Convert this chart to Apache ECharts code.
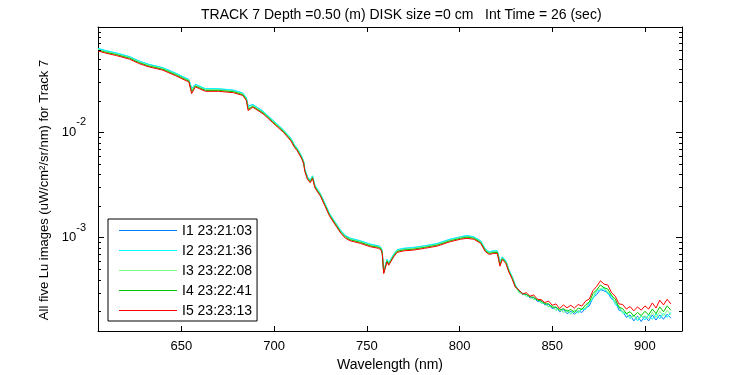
<!DOCTYPE html>
<html><head><meta charset="utf-8">
<script src="https://cdn.jsdelivr.net/npm/echarts@6/dist/echarts.min.js"></script>
<style>html,body{margin:0;padding:0;background:#fff}#c{width:750px;height:375px}</style>
</head><body><div id="c"></div>
<script>
const titleText = 'TRACK 7 Depth =0.50 (m) DISK size =0 cm   Int Time = 26 (sec)';
const xName = 'Wavelength (nm)';
const yName = 'All five Lu images (uW/cm\u00b2/sr/nm) for Track 7';
const seriesNames = ['I1 23:21:03','I2 23:21:36','I3 23:22:08','I4 23:22:41','I5 23:23:13'];

const wavelength = [605,609,615,622,627,632,640,647,652,654,655.5,657.5,663,670,678,683,685,686,688.5,694,
699,705,709,711,712.5,715,716,716.5,718,719.5,720.7,722,725,727.5,730,733,736,738.5,741,746.5,
752,756.5,757.7,758.3,759.1,760,760.9,761.8,762.7,764.5,766.3,770,775,781,788,795,800.5,804,807.7,811.4,
814,816,818.5,820.4,821.8,823.1,825,826.6,828.5,830,
832,834,836,838,840,842,844,846,848,850,852,854,856,858,860,862,864,866,868,870,
872,874,876,878,880,882,884,886,888,890,892,894,896,898,900,902,904,906,908,910,912,914];

const i1 = [0.0622,0.0594,0.0562,0.0520,0.0474,0.0441,0.0408,0.0361,0.0328,0.0316,
0.0262,0.0284,0.0257,0.0257,0.0250,0.0235,0.0213,0.0178,0.0183,0.0158,
0.0131,0.0105,0.00873,0.00754,0.00700,0.00583,0.00522,0.00449,0.00375,0.00349,
0.00385,0.00312,0.00259,0.00208,0.00167,0.00139,0.00116,0.00104,0.000982,0.000927,
0.000860,0.000831,0.000800,0.000744,0.000480,0.000496,0.000618,0.000574,0.000597,0.000691,
0.000761,0.000788,0.000800,0.000831,0.000874,0.000962,0.00101,0.00104,0.00101,0.000927,
0.000771,0.000728,0.000744,0.000744,0.000590,0.000652,0.000597,0.000496,0.000420,0.000357,
3.12e-4,2.88e-4,2.9e-4,2.68e-4,2.7e-4,2.48e-4,2.5e-4,2.3e-4,2.32e-4,2.12e-4,
2.18e-4,1.98e-4,2.08e-4,1.9e-4,2.0e-4,1.88e-4,2.02e-4,1.95e-4,2.15e-4,2.25e-4,
2.7e-4,2.88e-4,3.22e-4,3.12e-4,3.0e-4,2.62e-4,2.48e-4,2.05e-4,2.0e-4,1.75e-4,
1.85e-4,1.62e-4,1.8e-4,1.6e-4,1.8e-4,1.62e-4,1.85e-4,1.65e-4,1.85e-4,1.68e-4,
1.88e-4,1.72e-4];

const i2 = [0.0628,0.0600,0.0567,0.0525,0.0478,0.0445,0.0412,0.0365,0.0331,0.0319,
0.0258,0.0286,0.0260,0.0260,0.0252,0.0237,0.0214,0.0176,0.0184,0.0159,
0.0132,0.0106,0.00881,0.00761,0.00707,0.00588,0.00527,0.00454,0.00378,0.00352,
0.00387,0.00315,0.00262,0.00210,0.00169,0.00140,0.00117,0.00105,0.000991,0.000936,
0.000868,0.000838,0.000808,0.000752,0.000483,0.000500,0.000624,0.000580,0.000603,0.000697,
0.000769,0.000795,0.000808,0.000838,0.000882,0.000971,0.00102,0.00105,0.00102,0.000936,
0.000778,0.000735,0.000752,0.000752,0.000585,0.000658,0.000603,0.000500,0.000424,0.000360,
3.05e-4,2.98e-4,2.78e-4,2.8e-4,2.58e-4,2.62e-4,2.38e-4,2.42e-4,2.2e-4,2.26e-4,
2.04e-4,2.14e-4,1.95e-4,2.05e-4,1.88e-4,2.04e-4,1.92e-4,2.1e-4,2.08e-4,2.4e-4,
2.62e-4,3.1e-4,3.18e-4,3.3e-4,2.92e-4,2.8e-4,2.32e-4,2.2e-4,1.92e-4,1.9e-4,
1.7e-4,1.85e-4,1.62e-4,1.82e-4,1.65e-4,1.85e-4,1.68e-4,1.9e-4,1.7e-4,1.92e-4,
1.75e-4,1.95e-4];

const i3 = [0.0613,0.0586,0.0554,0.0512,0.0467,0.0435,0.0403,0.0356,0.0323,0.0312,
0.0250,0.0279,0.0254,0.0254,0.0246,0.0232,0.0208,0.0170,0.0179,0.0155,
0.0129,0.0104,0.00860,0.00743,0.00690,0.00574,0.00514,0.00443,0.00369,0.00344,
0.00378,0.00307,0.00256,0.00205,0.00165,0.00137,0.00114,0.00102,0.000968,0.000914,
0.000848,0.000819,0.000789,0.000734,0.000470,0.000489,0.000610,0.000566,0.000589,0.000681,
0.000750,0.000776,0.000789,0.000819,0.000861,0.000948,0.00100,0.00102,0.00100,0.000914,
0.000760,0.000717,0.000734,0.000734,0.000565,0.000643,0.000589,0.000489,0.000414,0.000352,
3.0e-4,2.95e-4,2.8e-4,2.75e-4,2.6e-4,2.6e-4,2.42e-4,2.4e-4,2.22e-4,2.25e-4,
2.05e-4,2.12e-4,1.95e-4,2.08e-4,1.9e-4,2.06e-4,1.95e-4,2.14e-4,2.15e-4,2.46e-4,
2.72e-4,3.2e-4,3.28e-4,3.38e-4,3.02e-4,2.88e-4,2.4e-4,2.25e-4,1.95e-4,1.93e-4,
1.74e-4,1.8e-4,1.7e-4,1.78e-4,1.8e-4,1.72e-4,1.95e-4,1.75e-4,2.0e-4,1.8e-4,
2.05e-4,1.85e-4];

const i4 = [0.0604,0.0577,0.0546,0.0505,0.0460,0.0428,0.0397,0.0351,0.0318,0.0307,
0.0243,0.0275,0.0250,0.0250,0.0243,0.0228,0.0205,0.0166,0.0176,0.0153,
0.0127,0.0102,0.00848,0.00732,0.00680,0.00566,0.00507,0.00437,0.00364,0.00339,
0.00372,0.00303,0.00252,0.00202,0.00162,0.00135,0.00112,0.00101,0.000954,0.000901,
0.000835,0.000807,0.000777,0.000723,0.000462,0.000481,0.000601,0.000558,0.000580,0.000671,
0.000740,0.000765,0.000777,0.000807,0.000849,0.000934,0.000985,0.00101,0.000985,0.000901,
0.000749,0.000707,0.000723,0.000723,0.000550,0.000633,0.000580,0.000481,0.000408,0.000347,
3.15e-4,2.95e-4,2.9e-4,2.75e-4,2.72e-4,2.55e-4,2.52e-4,2.35e-4,2.36e-4,2.18e-4,
2.2e-4,2.05e-4,2.12e-4,2.0e-4,2.08e-4,1.95e-4,2.15e-4,2.08e-4,2.3e-4,2.45e-4,
2.95e-4,3.2e-4,3.55e-4,3.35e-4,3.25e-4,2.82e-4,2.62e-4,2.18e-4,2.12e-4,1.9e-4,
1.98e-4,1.8e-4,1.95e-4,1.82e-4,2.0e-4,1.85e-4,2.1e-4,1.9e-4,2.2e-4,1.98e-4,
2.25e-4,2.05e-4];

const i5 = [0.0592,0.0566,0.0535,0.0495,0.0451,0.0420,0.0389,0.0344,0.0312,0.0301,
0.0233,0.0270,0.0245,0.0245,0.0238,0.0224,0.0201,0.0161,0.0173,0.0150,
0.01247,0.0100,0.00831,0.00718,0.00667,0.00555,0.00497,0.00428,0.00357,0.00332,
0.00365,0.00297,0.00247,0.00198,0.00159,0.00132,0.00110,0.000986,0.000935,0.000883,
0.000819,0.000791,0.000762,0.000709,0.000456,0.000472,0.000589,0.000547,0.000569,0.000658,
0.000725,0.000750,0.000762,0.000791,0.000832,0.000916,0.000966,0.000986,0.000966,0.000883,
0.000734,0.000693,0.000709,0.000709,0.000536,0.000621,0.000569,0.000472,0.000400,0.000340,
3.2e-4,2.92e-4,3.0e-4,2.78e-4,2.86e-4,2.6e-4,2.58e-4,2.42e-4,2.5e-4,2.28e-4,
2.35e-4,2.12e-4,2.3e-4,2.16e-4,2.28e-4,2.15e-4,2.32e-4,2.24e-4,2.5e-4,2.62e-4,
3.15e-4,3.45e-4,3.9e-4,3.62e-4,3.55e-4,3.0e-4,2.78e-4,2.35e-4,2.32e-4,2.1e-4,
2.22e-4,2.02e-4,2.2e-4,2.05e-4,2.25e-4,2.1e-4,2.4e-4,2.15e-4,2.55e-4,2.3e-4,
2.6e-4,2.35e-4];

const minorTicks = [2e-4,3e-4,4e-4,5e-4,6e-4,7e-4,8e-4,9e-4,
2e-3,3e-3,4e-3,5e-3,6e-3,7e-3,8e-3,9e-3,
2e-2,3e-2,4e-2,5e-2,6e-2,7e-2,8e-2,9e-2];

const xMin = 605, xMax = 920, yMin = 1.3e-4, yMax = 0.1;

const FONT = 'Liberation Sans, Arial, sans-serif';
const colors = ['#0080ff','#00ffff','#80ff80','#00c800','#ff0000'];
const allVals = [i1, i2, i3, i4, i5];
const LEGEND_ICON = 'path://M0,0L0.01,0L0,0.01Z M0,6L58,6L58,7L0,7Z M58,14L57.99,14L58,13.99Z';

const chart = echarts.init(document.getElementById('c'), null, {renderer: 'canvas'});

const lineSeries = seriesNames.map((name, k) => ({
  name: name,
  type: 'line',
  symbol: 'none',
  showSymbol: false,
  xAxisIndex: 0, yAxisIndex: 0,
  color: colors[k],
  itemStyle: {color: colors[k]},
  lineStyle: {width: 1, color: colors[k]},
  data: wavelength.map((w, i) => [w, allVals[k][i]]),
  animation: false,
  clip: true,
  z: 2 + k
}));

const minorSeries = {
  type: 'custom',
  xAxisIndex: 0, yAxisIndex: 0,
  silent: true,
  animation: false,
  z: 10,
  data: minorTicks.map(v => [xMin, v]),
  renderItem: function (params, api) {
    const cs = params.coordSys;
    const p = api.coord([api.value(0), api.value(1)]);
    const y = Math.round(p[1]) + 0.5;
    return {
      type: 'group',
      children: [
        {type: 'line', shape: {x1: cs.x, y1: y, x2: cs.x + 3, y2: y}, style: {stroke: '#000', lineWidth: 1}},
        {type: 'line', shape: {x1: cs.x + cs.width - 3, y1: y, x2: cs.x + cs.width, y2: y}, style: {stroke: '#000', lineWidth: 1}}
      ]
    };
  }
};

const axisLineStyle = {show: true, lineStyle: {color: '#000', width: 1}};

chart.setOption({
  animation: false,
  backgroundColor: '#fff',
  title: {
    text: titleText,
    left: 196, top: 3,
    textStyle: {fontFamily: FONT, fontSize: 14, fontWeight: 'normal', color: '#000'}
  },
  grid: {left: 98, right: 68, top: 27, bottom: 44, containLabel: false, outerBoundsMode: 'none'},
  legend: {
    data: seriesNames.map(n => ({name: n, icon: LEGEND_ICON})),
    orient: 'vertical',
    left: 108, top: 219,
    borderColor: '#000', borderWidth: 1,
    backgroundColor: '#fff',
    padding: [5, 5, 3, 11],
    itemWidth: 58, itemHeight: 14, itemGap: 6,
    itemStyle: {borderWidth: 0},
    selectedMode: false,
    textStyle: {fontFamily: FONT, fontSize: 14, color: '#000', lineHeight: 14}
  },
  xAxis: [{
    type: 'value', min: xMin, max: xMax, position: 'bottom',
    axisLine: axisLineStyle,
    axisTick: {inside: true, length: 5, lineStyle: {color: '#000'}},
    axisLabel: {color: '#000', fontFamily: FONT, fontSize: 13, margin: 9, showMinLabel: false, showMaxLabel: false},
    splitLine: {show: false},
    name: xName, nameLocation: 'middle', nameGap: 27,
    nameTextStyle: {color: '#000', fontFamily: FONT, fontSize: 14}
  }, {
    type: 'value', min: xMin, max: xMax, position: 'top',
    axisLine: axisLineStyle,
    axisTick: {inside: true, length: 5, lineStyle: {color: '#000'}},
    axisLabel: {show: false},
    splitLine: {show: false}
  }],
  yAxis: [{
    type: 'log', logBase: 10, min: yMin, max: yMax, position: 'left',
    axisLine: axisLineStyle,
    axisTick: {inside: true, length: 6, lineStyle: {color: '#000'}},
    axisLabel: {
      margin: 12, showMinLabel: false, showMaxLabel: false,
      formatter: function (v) {
        if (v >= yMax * 0.999 || v <= yMin * 1.001) return '';
        return '{b|10}{s|' + Math.round(Math.log10(v)) + '}';
      },
      rich: {
        b: {fontFamily: FONT, fontSize: 13, color: '#000'},
        s: {fontFamily: FONT, fontSize: 11, color: '#000', lineHeight: 12, padding: [0, 0, 20, 0]}
      }
    },
    splitLine: {show: false},
    minorTick: {show: false},
    name: yName, nameLocation: 'middle', nameGap: 40, nameRotate: 90,
    nameTextStyle: {color: '#000', fontFamily: FONT, fontSize: 13, padding: [0, 22, 0, 0]}
  }, {
    type: 'log', logBase: 10, min: yMin, max: yMax, position: 'right',
    axisLine: axisLineStyle,
    axisTick: {inside: true, length: 6, lineStyle: {color: '#000'}},
    axisLabel: {show: false},
    splitLine: {show: false}
  }],
  series: lineSeries.concat([minorSeries])
});
</script>
</body></html>
